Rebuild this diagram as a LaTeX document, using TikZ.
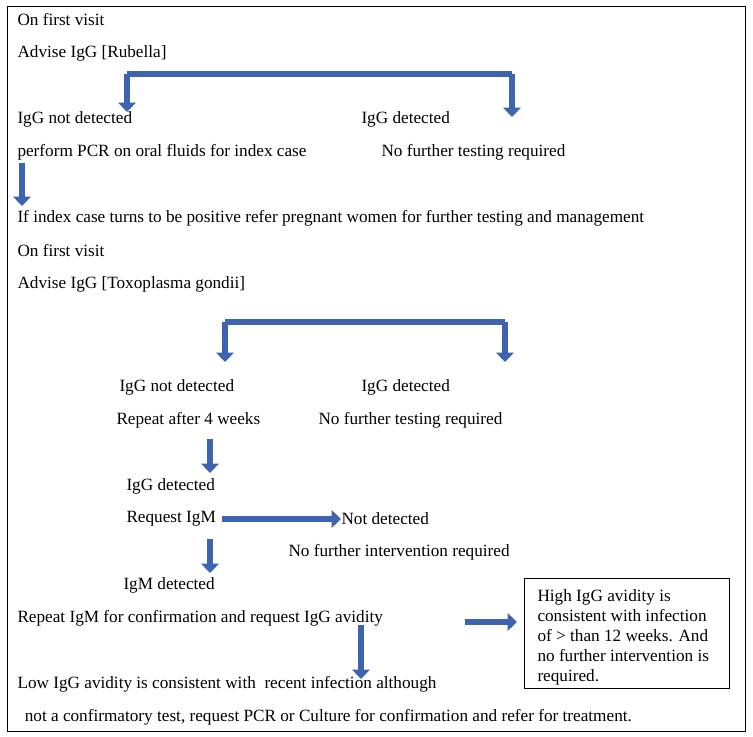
\documentclass[tikz,border=0pt]{standalone}
\usepackage{fontspec}
\setmainfont{Liberation Serif}
\usetikzlibrary{arrows.meta}
\definecolor{arrowblue}{RGB}{62,100,175}
\tikzset{every picture/.style={line width=0.75pt}}
\tikzset{
  txt/.style={anchor=west,inner sep=0pt,font=\fontsize{12.9}{15}\selectfont},
  blk/.style={draw=arrowblue,line width=4.5pt},
  blkarrow/.style={blk,-{Triangle[length=7pt,width=13pt]}}
}
\begin{document}
\begin{tikzpicture}[x=0.75pt,y=0.75pt,yscale=-1,xscale=1]
\useasboundingbox (0,0) rectangle (753,737);
%Shape: Frame
\draw (7,7) rectangle (745,731);

% Rubella
\node[txt] (visitA) at (17,20) {On first visit};
\node[txt] (rubella) at (17,53) {Advise IgG [Rubella]};
\node[txt] (rnot) at (17,119) {IgG not detected};
\node[txt] (rdet) at (361,119) {IgG detected};
\node[txt] (pcr) at (17,152) {perform PCR on oral fluids for index case};
\node[txt] (rnofurther) at (381,152) {No further testing required};
\node[txt] (index) at (17,218) {If index case turns to be positive refer pregnant women for further testing and management};
\coordinate (rl) at (127,74);
\coordinate (rr) at (512,74);
\draw[blk] (rl) -- (rr);
\draw[blkarrow] (rl) -- (127,112);
\draw[blkarrow] (rr) -- (512,117);
\draw[blkarrow] (22,163) -- (22,206);

% Toxoplasma
\node[txt] (visitB) at (17,251) {On first visit};
\node[txt] (toxo) at (17,284) {Advise IgG [Toxoplasma gondii]};
\node[txt] (tnot) at (119,387) {IgG not detected};
\node[txt] (tdet) at (361,387) {IgG detected};
\node[txt] (repeat) at (116,420) {Repeat after 4 weeks};
\node[txt] (tnofurther) at (318,420) {No further testing required};
\coordinate (tl) at (225,322);
\coordinate (tr) at (505,322);
\draw[blk] (tl) -- (tr);
\draw[blkarrow] (tl) -- (225,362);
\draw[blkarrow] (tr) -- (505,362);
\draw[blkarrow] (210,439) -- (210,473);

\node[txt] (igg) at (126,486) {IgG detected};
\node[txt] (igm) at (126,519) {Request IgM};
\node[txt] (notdet) at (341,519) {Not detected};
\node[txt] (nointerv) at (288,552) {No further intervention required};
\node[txt] (igmdet) at (123,585) {IgM detected};
\draw[blkarrow] (222,519) -- (notdet.west);
\draw[blkarrow] (210,539) -- (210,573);

\node[txt] (avidity) at (17,618) {Repeat IgM for confirmation and request IgG avidity};
\draw (524,578) rectangle (729,688);
\node[txt,align=left,anchor=north west,font=\fontsize{12.9}{15}\selectfont] (high) at (537,589)
  {High IgG avidity is\\consistent with infection\\of > than 12 weeks. And\\no further intervention is\\required.};
\draw[blkarrow] (465,622) -- (517,622);
\draw[blkarrow] (361,625) -- (361,679);
\node[txt] (low) at (17,684) {Low IgG avidity is consistent with\ \ recent infection although};
\node[txt] (confirm) at (20,717) {\ not a confirmatory test, request PCR or Culture for confirmation and refer for treatment.};
\end{tikzpicture}
\end{document}
